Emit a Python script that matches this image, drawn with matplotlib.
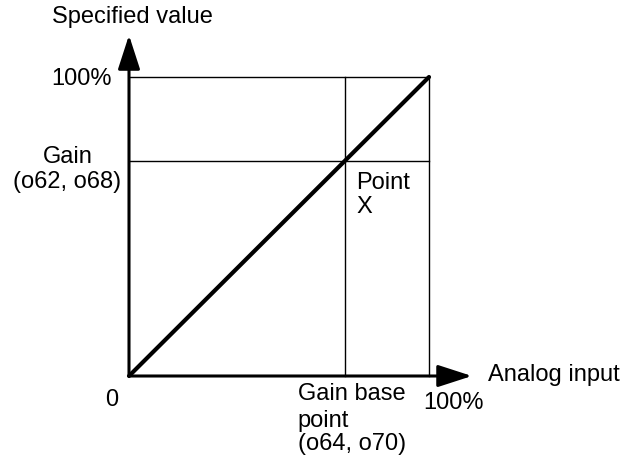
import matplotlib.pyplot as plt

plt.rcParams['font.family'] = ['Liberation Sans', 'DejaVu Sans']

# analog input (fraction of 100%) vs specified value
analog_input = [0.0, 0.72, 1.0]
specified_value = [0.0, 0.72, 1.0]
gain_base = 0.72   # o64, o70
gain = 0.72        # o62, o68

W, H = 626, 463
fig = plt.figure(figsize=(W / 100, H / 100), dpi=100)
# origin at (129, 376) px, 100% corner at (429, 77) px
ax = fig.add_axes([129 / W, (H - 376) / H, 300 / W, 299 / H])
ax.set_xlim(0, 1)
ax.set_ylim(0, 1)
ax.axis('off')

# thin reference lines
ax.plot([0, 1], [1, 1], color='black', lw=1, clip_on=False)
ax.plot([1, 1], [0, 1], color='black', lw=1, clip_on=False)
ax.plot([0, 1], [gain, gain], color='black', lw=1, clip_on=False)
ax.plot([gain_base, gain_base], [0, 1], color='black', lw=1, clip_on=False)

# characteristic line
ax.plot(analog_input, specified_value, color='black', lw=3, clip_on=False,
        solid_capstyle='round')

# axes with arrows
arrow = dict(arrowstyle='-|>,head_length=2.1,head_width=0.68', color='black',
             lw=2.2, shrinkA=0, shrinkB=0, mutation_scale=10)
ax.annotate('', xy=(1.143, 0), xytext=(0, 0), arrowprops=arrow,
            annotation_clip=False)
ax.annotate('', xy=(0, 1.14), xytext=(0, 0), arrowprops=arrow,
            annotation_clip=False)

fs = 17
ax.text(0.01, 1.20, 'Specified value', ha='center', va='center', fontsize=fs)
ax.text(-0.057, 0.993, '100%', ha='right', va='center', fontsize=fs)
ax.text(-0.203, 0.732, 'Gain', ha='center', va='center', fontsize=fs)
ax.text(-0.205, 0.649, '(o62, o68)', ha='center', va='center', fontsize=fs)
ax.text(0.757, 0.645, 'Point', ha='left', va='center', fontsize=fs)
ax.text(0.757, 0.565, 'X', ha='left', va='center', fontsize=fs)
ax.text(-0.057, -0.08, '0', ha='center', va='center', fontsize=fs)
ax.text(1.197, 0.003, 'Analog input', ha='left', va='center', fontsize=fs)
ax.text(0.563, -0.080, 'Gain base', ha='left', va='baseline', fontsize=fs)
ax.text(0.563, -0.171, 'point', ha='left', va='baseline', fontsize=fs)
ax.text(0.563, -0.247, '(o64, o70)', ha='left', va='baseline', fontsize=fs)
ax.text(1.083, -0.09, '100%', ha='center', va='center', fontsize=fs)

fig.savefig('out.png', dpi=100)
